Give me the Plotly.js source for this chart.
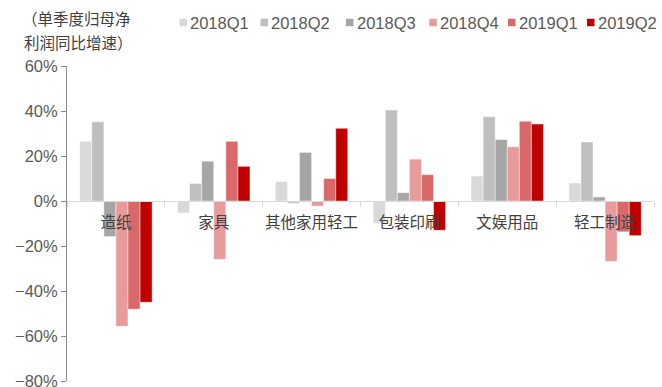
<!DOCTYPE html>
<html>
<head>
<meta charset="utf-8">
<script src="https://cdn.plot.ly/plotly-3.0.1.min.js"></script>
<style>
  html, body { margin: 0; padding: 0; background: #ffffff; }
  #chart { width: 662px; height: 387px; }
</style>
</head>
<body>
<div id="chart"></div>
<script>
// Industry categories (light industry sub-sectors)
const categories = ['造纸', '家具', '其他家用轻工', '包装印刷', '文娱用品', '轻工制造'];

// Quarter names for each series
const quarters = ['2018Q1', '2018Q2', '2018Q3', '2018Q4', '2019Q1', '2019Q2'];

// YoY growth of quarterly net profit attributable to parent (%)
const q2018Q1 = [26.5, -5.3, 8.6, -9.9, 11.1, 8.0];
const q2018Q2 = [35.2, 7.8, -1.0, 40.4, 37.4, 26.2];
const q2018Q3 = [-15.8, 17.7, 21.6, 3.7, 27.3, 1.8];
const q2018Q4 = [-55.7, -25.9, -2.3, 18.6, 24.1, -26.8];
const q2019Q1 = [-48.1, 26.5, 10.0, 11.7, 35.5, -13.7];
const q2019Q2 = [-45.0, 15.4, 32.3, -13.0, 34.2, -15.4];

const seriesValues = [q2018Q1, q2018Q2, q2018Q3, q2018Q4, q2019Q1, q2019Q2];

// Y axis ticks and their labels
const yTickVals = [-80, -60, -40, -20, 0, 20, 40, 60];
const yTickText = ['\u221280%', '\u221260%', '\u221240%', '\u221220%', '0%', '20%', '40%', '60%'];

const colors = ['#d9d9d9', '#bfbfbf', '#a6a6a6', '#e89b9b', '#d9686a', '#c00000'];

const FONT = 'Liberation Sans, Noto Sans CJK SC, sans-serif';
const CJK = 'Noto Sans CJK SC, sans-serif';

const yMin = -80, yMax = 60;

// Plot area geometry in pixels
const W = 662, H = 387;
const M = { l: 67, r: 8, t: 66, b: 6 };
const PW = W - M.l - M.r, PH = H - M.t - M.b;
const px = x => (x - M.l) / PW;
const py = y => (H - M.b - y) / PH;

const traces = quarters.map((q, i) => ({
  type: 'bar',
  name: q,
  x: categories,
  y: seriesValues[i],
  marker: { color: colors[i], line: { color: 'rgba(255,255,255,0.45)', width: 1 } },
  showlegend: false,
  hoverinfo: 'x+y+name'
}));

// Legend built from small squares and labels along the top
const legendLeft = [179.5, 260.5, 346, 429.3, 508, 587];
const legendY = 23;
const shapes = quarters.map((q, i) => ({
  type: 'rect', xref: 'paper', yref: 'paper',
  xsizemode: 'pixel', ysizemode: 'pixel',
  xanchor: px(legendLeft[i]), yanchor: py(legendY - 0.5),
  x0: 0, x1: 7.5, y0: -3.75, y1: 3.75,
  fillcolor: colors[i], line: { width: 0 }
}));
const annotations = quarters.map((q, i) => ({
  xref: 'paper', yref: 'paper',
  x: px(legendLeft[i] + 9.5), y: py(legendY),
  xanchor: 'left', yanchor: 'middle',
  text: q, showarrow: false, borderpad: 0,
  font: { family: FONT, size: 16.5, color: '#595959' }
}));

// Axis caption in two lines at top-left
annotations.push({
  xref: 'paper', yref: 'paper', x: px(21), y: py(17.5),
  xanchor: 'left', yanchor: 'middle', showarrow: false, borderpad: 0,
  text: '（单季度归母净', font: { family: CJK, size: 15.5, color: '#404040' }
});
annotations.push({
  xref: 'paper', yref: 'paper', x: px(22.5), y: py(42),
  xanchor: 'left', yanchor: 'middle', showarrow: false, borderpad: 0,
  text: '利润同比增速）', font: { family: CJK, size: 15.5, color: '#404040' }
});

const layout = {
  width: W, height: H,
  margin: M,
  paper_bgcolor: '#ffffff',
  plot_bgcolor: '#ffffff',
  barmode: 'group',
  bargap: 0.26,
  bargroupgap: 0,
  showlegend: false,
  font: { family: FONT, color: '#595959' },
  xaxis: {
    type: 'category',
    anchor: 'free',
    position: (0 - yMin) / (yMax - yMin),
    showline: true, linecolor: '#d9d9d9', linewidth: 1,
    ticks: 'outside', ticklen: 5, tickcolor: '#d9d9d9', tickwidth: 1,
    tickson: 'boundaries',
    tickangle: 0,
    ticklabelstandoff: 7,
    showgrid: false, zeroline: false,
    tickfont: { family: CJK, size: 15.5, color: '#404040' },
    layer: 'above traces'
  },
  yaxis: {
    range: [yMin, yMax],
    tickmode: 'array',
    tickvals: yTickVals,
    ticktext: yTickText,
    ticklabeloverflow: 'allow',
    showline: true, linecolor: '#8c8c8c', linewidth: 1,
    ticks: 'outside', ticklen: 5, tickcolor: '#8c8c8c',
    showgrid: false, zeroline: false,
    tickfont: { family: FONT, size: 16.5, color: '#595959' }
  },
  shapes: shapes,
  annotations: annotations
};

Plotly.newPlot('chart', traces, layout, { displayModeBar: false, staticPlot: true });
</script>
</body>
</html>
